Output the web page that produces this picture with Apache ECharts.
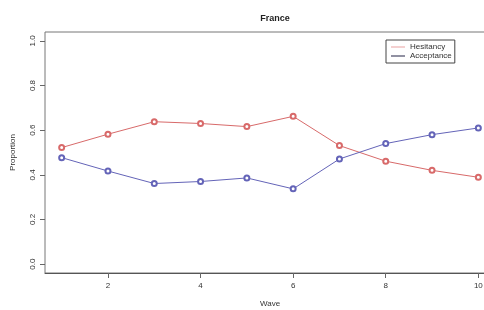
<!DOCTYPE html>
<html>
<head>
<meta charset="utf-8">
<script src="https://cdn.jsdelivr.net/npm/echarts@6/dist/echarts.min.js"></script>
<style>
html,body{margin:0;padding:0;background:#fff;}
#chart{width:484px;height:310px;}
</style>
</head>
<body>
<div id="chart"></div>
<script>
var waves = [1, 2, 3, 4, 5, 6, 7, 8, 9, 10];
var hesitancy = [0.522, 0.582, 0.638, 0.630, 0.616, 0.662, 0.531, 0.461, 0.420, 0.389];
var acceptance = [0.477, 0.417, 0.361, 0.370, 0.386, 0.337, 0.471, 0.540, 0.580, 0.610];
var xTicks = [2, 4, 6, 8, 10];
var yTicks = [0, 0.2, 0.4, 0.6, 0.8, 1.0];

function pairs(xs, ys) { return xs.map(function (x, i) { return [x, ys[i]]; }); }

var chart = echarts.init(document.getElementById('chart'), null, {renderer: 'canvas'});
var font = 'Liberation Sans, Arial, sans-serif';
chart.setOption({
  animation: false,
  backgroundColor: '#fff',
  title: {
    text: 'France', left: 270, top: 9, textAlign: 'center',
    textStyle: {fontSize: 9, fontWeight: 'bold', color: '#222', fontFamily: font}
  },
  grid: {left: 45, top: 32, width: 450, height: 241, outerBoundsMode: 'none', containLabel: false,
    show: true, borderColor: '#777', borderWidth: 1, backgroundColor: 'transparent'},
  legend: {
    orient: 'vertical', left: 386, top: 40,
    borderColor: '#444', borderWidth: 1, padding: [3, 3, 3, 5],
    itemGap: 1, itemWidth: 14, itemHeight: 1, icon: 'rect',
    textStyle: {fontSize: 8, color: '#333', fontFamily: font, padding: [0, 0, 0, 0]},
    data: [
      {name: 'Hesitancy', itemStyle: {color: '#e8a0a0'}},
      {name: 'Acceptance', itemStyle: {color: '#222244'}}
    ]
  },
  xAxis: {
    type: 'value', min: 0.64, max: 10.36, position: 'bottom',
    name: 'Wave', nameLocation: 'middle', nameGap: 27,
    nameTextStyle: {fontSize: 8, color: '#333', fontFamily: font},
    axisLine: {show: true, onZero: false, lineStyle: {color: '#555'}},
    axisTick: {show: true, inside: false, length: 5, customValues: xTicks, lineStyle: {color: '#666'}},
    axisLabel: {customValues: xTicks, fontSize: 8, color: '#333', margin: 9, fontFamily: font},
    splitLine: {show: false}
  },
  yAxis: {
    type: 'value', min: -0.04, max: 1.04,
    name: 'Proportion', nameLocation: 'middle', nameGap: 28, nameRotate: 90,
    nameTextStyle: {fontSize: 8, color: '#333', fontFamily: font},
    axisLine: {show: false},
    axisTick: {show: true, inside: false, length: 5, customValues: yTicks, lineStyle: {color: '#666'}},
    axisLabel: {customValues: yTicks, rotate: 90, fontSize: 8, color: '#333', margin: 8, fontFamily: font,
      formatter: function (v) { return v.toFixed(1); }},
    splitLine: {show: false}
  },
  series: [
    {
      name: 'Hesitancy', type: 'line', data: pairs(waves, hesitancy),
      symbol: 'emptyCircle', symbolSize: 5,
      lineStyle: {color: '#d86a6a', width: 1},
      itemStyle: {color: '#d86a6a', borderWidth: 0.7}
    },
    {
      name: 'Acceptance', type: 'line', data: pairs(waves, acceptance),
      symbol: 'emptyCircle', symbolSize: 5,
      lineStyle: {color: '#6464b8', width: 1},
      itemStyle: {color: '#6464b8', borderWidth: 0.7}
    }
  ]
});
</script>
</body>
</html>
